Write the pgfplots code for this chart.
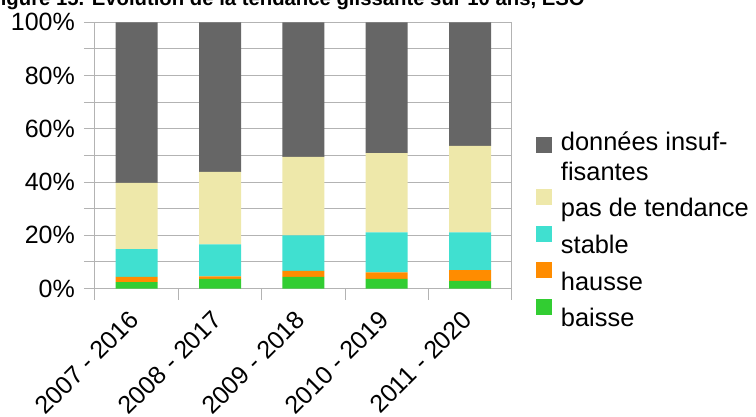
\documentclass[border=0pt]{standalone}
\usepackage{fontspec}
\setmainfont{Liberation Sans}
\usepackage{pgfplots}
\usepackage{pgfplotstable}
\pgfplotsset{compat=1.18}

\definecolor{cDonnees}{HTML}{666666}
\definecolor{cPas}{HTML}{EEE8AA}
\definecolor{cStable}{HTML}{40E0D0}
\definecolor{cHausse}{HTML}{FF8C00}
\definecolor{cBaisse}{HTML}{32CD32}
\definecolor{cGrid}{HTML}{B3B3B3}

% share of stations per trend class (%), rolling 10-year windows
\pgfplotstableread{
x baisse hausse stable pas donnees
0 2.4 2.0 10.4 24.9 60.3
1 3.6 1.0 12.0 27.2 56.2
2 4.4 2.2 13.4 29.4 50.6
3 3.6 2.5 15.0 29.8 49.1
4 2.9 4.0 14.2 32.5 46.4
}\datatable

\begin{document}
\begin{tikzpicture}[x=1pt,y=1pt]
\useasboundingbox (0,0) rectangle (756,416);
\node[anchor=base east, inner sep=0pt, font=\bfseries\fontsize{20.3}{24}\selectfont]
  at (585,410) {Figure 15. Evolution de la tendance glissante sur 10 ans, ESO};
\begin{axis}[
  at={(95pt,127.5pt)}, anchor=south west,
  scale only axis, width=416.7pt, height=266.2pt,
  ybar stacked, bar width=42pt,
  xmin=-0.5, xmax=4.5, ymin=0, ymax=100,
  xtick={-0.5,0.5,...,4.5}, xticklabels={},
  extra x ticks={0,1,2,3,4},
  extra x tick labels={2007 - 2016, 2008 - 2017, 2009 - 2018, 2010 - 2019, 2011 - 2020},
  extra x tick style={major tick length=0pt, tick style={draw=none}},
  ytick={0,20,...,100}, minor ytick={10,30,...,90},
  yticklabel={\pgfmathprintnumber{\tick}\%},
  ymajorgrids, yminorgrids,
  major grid style={cGrid, line width=1pt},
  minor grid style={cGrid, line width=1pt},
  axis line style={cGrid, line width=1pt},
  tick style={cGrid, line width=1pt},
  tick align=outside, xtick pos=bottom, ytick pos=left,
  major tick length=11pt, minor tick length=11pt,
  /pgf/number format/assume math mode=true,
  ticklabel style={font=\fontsize{25}{30}\selectfont},
  xticklabel style={xshift=-9pt, yshift=-20.5pt, rotate=45, anchor=north east, inner sep=0pt},
  yticklabel style={inner sep=0pt, xshift=-9pt},
  legend style={draw=none, fill=none, inner sep=0pt, outer sep=0pt,
    at={(1.0583,0.6067)}, anchor=north west,
    font=\fontsize{25.4}{30}\selectfont,
    nodes={align=left, inner sep=2pt},
    row sep=5.5pt,
    /tikz/every odd column/.append style={column sep=7pt}},
  legend cell align=left,
  reverse legend,
  legend image code/.code={\fill[#1,draw=none] (0pt,2pt) rectangle (16pt,18pt);},
]
\addplot[fill=cBaisse, draw=none] table[x=x, y=baisse] {\datatable};
\addplot[fill=cHausse, draw=none] table[x=x, y=hausse] {\datatable};
\addplot[fill=cStable, draw=none] table[x=x, y=stable] {\datatable};
\addplot[fill=cPas, draw=none] table[x=x, y=pas] {\datatable};
\addplot[fill=cDonnees, draw=none] table[x=x, y=donnees] {\datatable};
\legend{\strut baisse, \strut hausse, \strut stable, \strut pas de tendance,
  \strut données insuf-\\\strut fisantes}
\end{axis}
\end{tikzpicture}
\end{document}
